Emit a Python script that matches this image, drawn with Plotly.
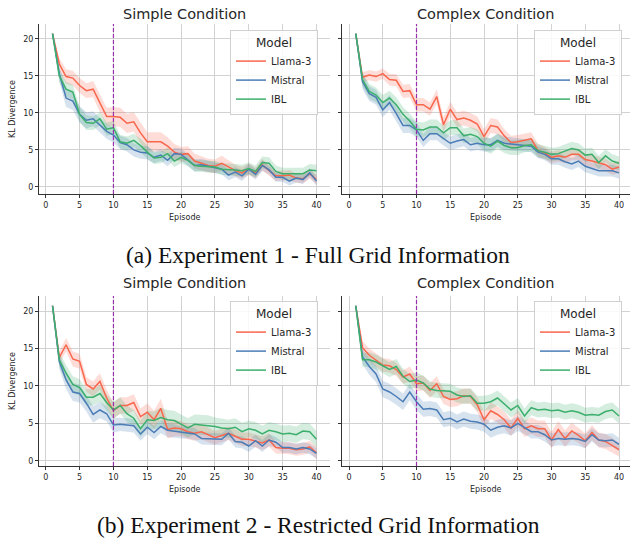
import plotly.graph_objects as go

# ---------------- data ----------------
episodes = list(range(1, 41))
x_ticks = [0, 5, 10, 15, 20, 25, 30, 35, 40]
y_ticks = [0, 5, 10, 15, 20]
phase_split = 10
models = ["Llama-3", "Mistral", "IBL"]
conditions = ["Simple Condition", "Complex Condition"]
captions = ["(a) Experiment 1 - Full Grid Information",
            "(b) Experiment 2 - Restricted Grid Information"]

# Experiment 1 - Simple
llama_e1_simple = [20.7,16.6,14.9,14.7,13.7,13.0,13.2,11.3,9.5,9.5,9.4,8.6,8.8,7.3,6.1,6.1,6.1,5.5,4.7,4.4,
                   4.5,3.5,3.2,2.9,2.8,3.2,2.7,2.2,1.9,2.4,1.9,3.0,2.2,1.5,1.5,1.6,1.2,1.1,1.8,1.0]
mistral_e1_simple = [20.7,15.3,12.0,11.6,9.8,9.0,9.2,8.3,7.5,7.0,6.0,5.7,5.0,4.7,4.6,4.0,4.3,3.6,4.5,4.4,
                     3.6,2.9,3.0,2.8,2.6,2.4,1.6,2.0,1.5,2.4,1.7,2.9,2.3,1.3,1.3,0.8,1.2,1.0,1.9,0.8]
ibl_e1_simple = [20.7,15.0,13.2,12.8,9.8,8.7,8.6,9.2,7.8,8.0,6.1,5.9,6.3,5.6,4.7,3.9,4.0,4.5,3.5,4.0,
                 3.6,2.9,2.8,2.8,2.7,2.4,2.4,2.3,2.2,2.5,2.1,3.3,3.2,2.1,1.8,1.8,1.8,1.8,2.3,2.2]
llama_e1_simple_ci = [0,0.8,1.0,1.0,1.0,1.0,1.1,1.2,1.2,1.3,1.3,1.3,1.3,1.4,1.3,1.3,1.3,1.2,1.1,1.0,
                      1.0,1.0,0.9,0.9,0.9,1.0,0.9,0.8,0.8,0.8,0.7,0.8,0.7,0.7,0.7,0.7,0.6,0.6,0.7,0.6]
mistral_e1_simple_ci = [0,1.0,1.2,1.2,1.1,1.1,1.0,1.0,1.0,1.0,0.9,0.9,0.9,0.9,0.9,0.8,0.8,0.8,0.8,0.8,
                        0.8,0.8,0.8,0.7,0.7,0.7,0.7,0.7,0.7,0.7,0.7,0.7,0.6,0.6,0.6,0.6,0.6,0.6,0.6,0.6]
ibl_e1_simple_ci = [0,0.9,1.0,1.0,1.0,1.0,0.9,0.9,0.9,0.9,0.9,0.9,0.9,0.9,0.9,0.8,0.8,0.8,0.8,0.8,
                    0.8,0.8,0.8,0.8,0.8,0.8,0.8,0.8,0.8,0.8,0.8,0.8,0.8,0.8,0.8,0.8,0.8,0.8,0.8,0.8]

# Experiment 1 - Complex
llama_e1_complex = [20.7,14.8,15.1,14.9,15.3,14.5,14.4,12.9,13.0,11.1,11.1,10.5,12.2,8.4,10.5,9.1,9.3,9.0,8.5,6.8,
                    8.3,8.1,6.9,6.0,6.1,6.3,6.5,4.9,4.6,4.0,4.2,4.0,4.4,4.4,3.7,3.5,3.2,3.0,2.4,2.7]
mistral_e1_complex = [20.7,14.2,12.6,12.1,10.4,11.4,9.9,8.3,8.3,7.7,6.3,7.2,7.2,6.5,5.9,6.2,6.4,5.7,5.9,5.7,
                      5.7,6.3,5.9,5.8,5.7,5.6,5.5,4.7,4.4,3.8,3.8,3.4,3.1,3.5,2.8,2.5,2.2,2.2,2.2,1.9]
ibl_e1_complex = [20.7,14.5,12.9,12.4,11.4,12.0,11.1,9.8,8.9,7.8,7.7,8.1,8.1,7.3,8.0,8.0,6.9,7.1,6.8,5.9,
                  5.5,6.2,5.6,5.3,5.3,5.6,5.7,4.9,4.7,4.4,4.5,4.8,5.2,5.0,4.3,4.4,3.3,4.2,3.5,3.2]
llama_e1_complex_ci = [0,0.7,0.7,0.7,0.7,0.8,0.8,0.9,0.9,0.9,0.9,0.9,1.0,1.0,1.0,1.0,1.0,1.0,1.0,1.0,
                       1.0,1.0,0.9,0.9,0.9,0.9,0.9,0.9,0.8,0.8,0.8,0.8,0.8,0.8,0.8,0.8,0.8,0.8,0.8,0.8]
mistral_e1_complex_ci = [0,1.0,1.0,1.0,1.0,1.0,1.0,1.0,1.0,1.0,0.9,0.9,0.9,0.9,0.9,0.9,0.9,0.9,0.9,0.9,
                         0.9,0.9,0.9,0.9,0.9,0.8,0.8,0.8,0.8,0.8,0.8,0.8,0.8,0.8,0.8,0.8,0.8,0.8,0.8,0.8]
ibl_e1_complex_ci = [0,0.9,1.0,1.0,1.0,1.0,1.0,1.0,1.0,1.0,1.0,1.0,1.0,1.0,1.0,1.0,1.0,1.0,1.0,1.0,
                     1.0,1.0,1.0,1.0,1.0,0.9,0.9,0.9,0.9,0.9,0.9,0.9,0.9,0.9,0.9,0.9,0.9,0.9,0.9,0.9]

# Experiment 2 - Simple
llama_e2_simple = [20.7,13.8,15.5,13.6,13.3,10.2,9.6,10.6,8.4,6.7,7.4,7.4,7.8,5.9,6.5,5.5,7.0,4.2,4.4,4.3,
                   3.9,3.7,3.9,3.5,3.1,3.4,3.7,3.3,2.9,2.9,2.7,2.4,2.8,1.8,1.7,1.7,1.5,1.6,1.9,1.1]
mistral_e2_simple = [20.7,13.3,10.8,9.2,9.0,7.7,6.2,6.8,6.3,4.8,4.9,4.8,4.7,3.6,4.5,3.8,4.6,4.1,4.0,3.8,
                     3.8,3.6,3.0,3.0,2.9,2.9,3.7,2.6,2.5,2.0,2.7,2.0,2.8,2.5,1.8,1.8,1.6,1.8,1.6,1.0]
ibl_e2_simple = [20.7,13.5,11.7,10.2,9.8,8.5,8.5,9.0,7.8,6.8,7.4,6.3,5.7,4.3,5.5,5.4,5.8,5.5,5.4,4.9,
                 4.4,4.9,4.8,4.8,4.6,4.4,4.3,4.5,3.9,4.3,4.1,3.6,4.1,3.9,3.6,3.7,3.5,4.0,3.9,2.9]
llama_e2_simple_ci = [0,0.8,0.9,1.0,1.0,1.0,1.0,1.1,1.1,1.1,1.1,1.1,1.1,1.1,1.2,1.2,1.3,1.2,1.1,1.0,
                      1.0,1.0,1.0,1.0,0.9,0.9,0.9,0.9,0.9,0.9,0.9,0.9,0.9,0.8,0.8,0.8,0.8,0.8,0.8,0.8]
mistral_e2_simple_ci = [0,1.0,1.2,1.2,1.2,1.1,1.1,1.1,1.0,1.0,0.9,0.9,0.9,0.9,0.9,0.9,0.9,0.9,0.9,0.8,
                        0.8,0.8,0.8,0.8,0.8,0.8,0.8,0.8,0.8,0.8,0.8,0.8,0.8,0.7,0.7,0.7,0.7,0.7,0.7,0.7]
ibl_e2_simple_ci = [0,1.0,1.1,1.1,1.1,1.1,1.1,1.1,1.1,1.1,1.1,1.1,1.1,1.1,1.2,1.2,1.3,1.3,1.3,1.3,
                    1.3,1.3,1.3,1.3,1.2,1.2,1.2,1.2,1.2,1.1,1.1,1.1,1.1,1.1,1.1,1.1,1.1,1.1,1.1,1.1]

# Experiment 2 - Complex
llama_e2_complex = [20.7,15.1,14.1,13.4,12.8,12.7,12.2,11.2,11.6,10.3,10.4,9.4,10.3,8.6,8.2,8.3,8.7,8.6,7.5,5.5,
                    6.7,6.2,5.5,4.4,5.7,4.3,4.7,4.3,4.3,2.8,4.2,3.0,4.0,3.4,2.7,3.8,2.8,2.6,2.1,1.5]
mistral_e2_complex = [20.7,13.9,12.6,11.6,9.6,9.2,8.6,7.9,9.2,7.9,6.9,7.0,6.8,5.5,5.7,5.2,5.6,5.3,5.2,4.9,
                      4.1,4.5,4.7,4.4,5.0,4.5,3.9,3.9,3.5,2.8,3.0,2.9,3.0,2.9,2.6,3.5,2.8,2.7,2.8,2.2]
ibl_e2_complex = [20.7,13.5,13.5,13.2,12.7,12.2,12.6,11.3,10.6,10.8,10.4,9.6,9.4,9.4,9.3,8.8,8.6,8.7,7.7,7.7,
                  7.9,8.4,7.6,6.8,7.4,6.0,7.1,6.8,6.9,6.7,6.8,6.5,6.7,6.5,6.1,6.2,6.1,6.6,6.8,6.0]
llama_e2_complex_ci = [0,0.9,0.9,0.9,0.9,0.9,0.9,0.9,1.0,1.0,1.0,1.0,1.0,1.0,1.0,1.0,1.0,1.0,1.0,1.1,
                       1.1,1.1,1.1,1.1,1.1,1.1,1.1,1.1,1.1,1.1,1.1,1.1,1.1,1.0,1.0,1.0,1.0,1.0,1.0,0.9]
mistral_e2_complex_ci = [0,1.0,1.1,1.1,1.1,1.1,1.1,1.1,1.1,1.1,1.0,1.0,1.0,1.0,1.0,1.0,1.0,1.0,1.0,1.0,
                         1.0,1.0,1.0,1.0,1.0,0.9,0.9,0.9,0.9,0.9,0.9,0.9,0.9,0.9,0.9,0.9,0.9,0.9,0.9,0.9]
ibl_e2_complex_ci = [0,0.9,1.0,1.0,1.0,1.0,1.0,1.0,1.0,1.0,1.0,1.0,1.0,1.0,1.0,1.0,1.0,1.0,1.0,1.0,
                     1.0,1.0,1.0,1.0,1.0,1.0,1.0,1.0,1.0,1.0,1.0,1.0,1.0,1.0,1.0,1.0,1.0,1.0,1.0,1.0]

panels = [
    [(llama_e1_simple, llama_e1_simple_ci), (mistral_e1_simple, mistral_e1_simple_ci), (ibl_e1_simple, ibl_e1_simple_ci)],
    [(llama_e1_complex, llama_e1_complex_ci), (mistral_e1_complex, mistral_e1_complex_ci), (ibl_e1_complex, ibl_e1_complex_ci)],
    [(llama_e2_simple, llama_e2_simple_ci), (mistral_e2_simple, mistral_e2_simple_ci), (ibl_e2_simple, ibl_e2_simple_ci)],
    [(llama_e2_complex, llama_e2_complex_ci), (mistral_e2_complex, mistral_e2_complex_ci), (ibl_e2_complex, ibl_e2_complex_ci)],
]

# ---------------- style ----------------
W, H = 630, 542
line_colors = ["#f9664c", "#4a7cb6", "#3caf6c"]
fill_colors = ["rgba(249,102,76,0.22)", "rgba(74,124,182,0.22)", "rgba(60,175,108,0.22)"]
FONT = "DejaVu Sans"
TXT = "#262626"


def px_x(p):
    return p / W


def px_y(p):
    return 1 - p / H


x_domains = [[px_x(39), px_x(330)], [px_x(342), 1.0]]
y_domains = [[px_y(194), px_y(24)], [px_y(466), px_y(296)]]
x_ranges = [[-1.0, 42.0], [-1.04, 41.63]]
y_ranges = [[-0.95, 22.0], [-0.67, 22.0]]

fig = go.Figure()

for p, series in enumerate(panels):
    row, col = divmod(p, 2)
    ax = "" if p == 0 else str(p + 1)
    leg = "legend" if p == 0 else "legend" + str(p + 1)
    # bands first
    for s, (mean, ci) in enumerate(series):
        upper = [m + c for m, c in zip(mean, ci)]
        lower = [m - c for m, c in zip(mean, ci)]
        fig.add_trace(go.Scatter(
            x=episodes + episodes[::-1], y=upper + lower[::-1],
            fill="toself", fillcolor=fill_colors[s], line=dict(width=0),
            mode="lines", hoverinfo="skip", showlegend=False,
            xaxis="x" + ax, yaxis="y" + ax))
    for s, (mean, ci) in enumerate(series):
        fig.add_trace(go.Scatter(
            x=episodes, y=mean, mode="lines", name=models[s],
            line=dict(color=line_colors[s], width=1.5),
            xaxis="x" + ax, yaxis="y" + ax, legend=leg, showlegend=True))

    fig.add_shape(type="line", x0=phase_split, x1=phase_split, y0=0, y1=1,
                  xref="x" + ax, yref="y" + ax + " domain",
                  line=dict(color="#9b2fae", width=1.2, dash="4px,2px"))

    axis_common = dict(showgrid=True, gridcolor="#d2d2d2", gridwidth=1, zeroline=False,
                       showline=True, linecolor="#333333", linewidth=1, mirror=False,
                       ticks="outside", ticklen=3, tickcolor="#333333",
                       tickfont=dict(family=FONT, size=8, color=TXT))
    fig.layout["xaxis" + ax] = dict(axis_common, domain=x_domains[col], range=x_ranges[col],
                                    tickvals=x_ticks, anchor="y" + ax)
    fig.layout["yaxis" + ax] = dict(axis_common, domain=y_domains[row], range=y_ranges[row],
                                    tickvals=y_ticks, anchor="x" + ax,
                                    showticklabels=(col == 0))

    # legend box
    leg_right = [318, 622][col]
    leg_top = [30, 301][row]
    fig.layout[leg] = dict(
        x=px_x(leg_right), y=px_y(leg_top), xanchor="right", yanchor="top",
        bgcolor="rgba(255,255,255,0.85)", bordercolor="#d0d0d0", borderwidth=1,
        font=dict(family=FONT, size=10, color=TXT),
        title=dict(text="Model", side="top center", font=dict(family=FONT, size=12, color=TXT)),
        itemwidth=30, tracegroupgap=0)

    cx = (x_domains[col][0] + x_domains[col][1]) / 2
    fig.add_annotation(text=conditions[col], x=cx, y=px_y([14, 283][row]), xref="paper", yref="paper",
                       showarrow=False, xanchor="center", yanchor="middle",
                       font=dict(family=FONT, size=14.5, color=TXT))
    fig.add_annotation(text="Episode", x=cx, y=px_y([217, 489][row]), xref="paper", yref="paper",
                       showarrow=False, xanchor="center", yanchor="middle",
                       font=dict(family=FONT, size=8, color=TXT))
    if col == 0:
        fig.add_annotation(text="KL Divergence", x=px_x(12), y=px_y([109, 381][row]),
                           xref="paper", yref="paper", showarrow=False, textangle=-90,
                           xanchor="center", yanchor="middle",
                           font=dict(family=FONT, size=8, color=TXT))

for r, cap in enumerate(captions):
    fig.add_annotation(text=cap, x=px_x(318), y=px_y([255, 525][r]), xref="paper", yref="paper",
                       showarrow=False, xanchor="center", yanchor="middle",
                       font=dict(family="Liberation Serif", size=23.5, color="#111111"))

fig.update_layout(width=W, height=H, margin=dict(l=0, r=0, t=0, b=0),
                  paper_bgcolor="white", plot_bgcolor="white", showlegend=True)

fig.write_html("out.html", config={"displayModeBar": False},
               post_script="document.body.style.margin='0px';document.body.style.overflow='hidden';")
